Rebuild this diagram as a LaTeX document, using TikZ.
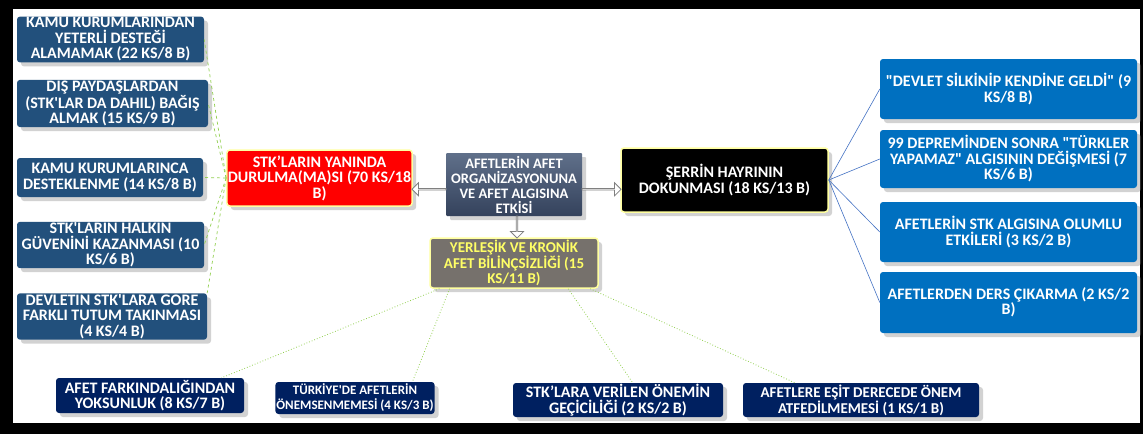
\documentclass[tikz,border=0pt]{standalone}
\usepackage{fontspec}
\setmainfont{Carlito}
\usetikzlibrary{shapes.arrows,shadows,calc}

\definecolor{steelbox}{RGB}{34,80,124}
\definecolor{brightbox}{RGB}{0,112,192}
\definecolor{navybox}{RGB}{0,32,96}
\definecolor{slatetop}{RGB}{96,112,138}
\definecolor{slatebot}{RGB}{52,66,92}
\definecolor{chronicbox}{RGB}{118,113,108}
\definecolor{chronictext}{RGB}{255,255,102}
\definecolor{glowline}{RGB}{255,255,160}
\definecolor{leafgreen}{RGB}{146,208,80}
\definecolor{linkblue}{RGB}{68,114,196}

\begin{document}
\begin{tikzpicture}[
    x=1pt, y=-1pt,
    % Define box styles
    box/.style={rounded corners=3pt, align=center, inner sep=1pt,
        font=\fontsize{16}{15.5}\selectfont\bfseries, text=white,
        drop shadow={shadow xshift=4pt, shadow yshift=-4pt, opacity=0.35}},
    small/.style={font=\fontsize{15}{15}\selectfont\bfseries},
    causebox/.style={box, fill=steelbox},
    gainbox/.style={box, fill=brightbox},
    lackbox/.style={box, fill=navybox},
    % Define the four middle boxes
    stkbox/.style={box, fill=red, draw=glowline, line width=1.5pt},
    rootbox/.style={box, font=\fontsize{14.5}{15}\selectfont\bfseries,
        top color=slatetop, bottom color=slatebot, rounded corners=1pt},
    chronic/.style={box, small, fill=chronicbox, draw=glowline, line width=1.5pt, text=chronictext},
    goodbox/.style={box, fill=black, draw=glowline, line width=1.5pt},
    % Define connector styles
    hollow/.style={single arrow, draw=gray, fill=white, inner sep=0pt, line width=0.8pt,
        minimum width=13, single arrow head extend=3.5, single arrow tip angle=90},
    leftlink/.style={leafgreen, dashed, line width=0.7pt},
    rightlink/.style={linkblue, line width=0.6pt},
    downlink/.style={leafgreen, dotted, line width=0.8pt}
]

% Frame
\useasboundingbox (0,0) rectangle (1143,434);
\fill[black] (0,0) rectangle (1143,434);
\fill[white] (13,9) rectangle (1140,423);

% Middle: the effect and its three branches
\node[rootbox, minimum width=136, minimum height=63] (etki) at (514,184.5)
    {AFETLERİN AFET\\ORGANİZASYONUNA\\VE AFET ALGISINA\\ETKİSİ};
\node[stkbox, minimum width=185, minimum height=56] (stk) at (319.5,178)
    {STK’LARIN YANINDA\\DURULMA(MA)SI (70 KS/18\\B)};
\node[goodbox, minimum width=207, minimum height=64] (serr) at (724.5,180)
    {ŞERRİN HAYRININ\\DOKUNMASI (18 KS/13 B)};
\node[chronic, minimum width=168, minimum height=50] (bilinc) at (514,263)
    {YERLEŞİK VE KRONİK\\AFET BİLİNÇSİZLİĞİ (15\\KS/11 B)};

\node[hollow, minimum height=34, shape border rotate=180] (toStk)
    at ($(etki.west)!0.5!(stk.east)+(0,8)$) {};
\node[hollow, minimum height=39] (toSerr)
    at ($(etki.east)!0.5!(serr.west)+(0,7)$) {};
\node[hollow, minimum height=22, shape border rotate=270] (toBilinc)
    at ($(etki.south)!0.5!(bilinc.north)+(3,0)$) {};

% Left column
\node[causebox, minimum width=187, minimum height=43] (kamu) at (110.5,39.5)
    {KAMU KURUMLARINDAN\\YETERLİ DESTEĞİ\\ALAMAMAK (22 KS/8 B)};
\node[causebox, minimum width=191, minimum height=45] (bagis) at (112.5,103.5)
    {DIŞ PAYDAŞLARDAN\\(STK\textquotesingle LAR DA DAHIL) BAĞIŞ\\ALMAK (15 KS/9 B)};
\node[causebox, minimum width=186, minimum height=39] (destek) at (110,177.5)
    {KAMU KURUMLARINCA\\DESTEKLENME (14 KS/8 B)};
\node[causebox, minimum width=187, minimum height=44] (guven) at (110.5,245)
    {STK\textquotesingle LARIN HALKIN\\GÜVENİNİ KAZANMASI (10\\KS/6 B)};
\node[causebox, minimum width=190, minimum height=45] (tutum) at (112,316.5)
    {DEVLETIN STK\textquotesingle LARA GORE\\FARKLI TUTUM TAKINMASI\\(4 KS/4 B)};

\foreach \n in {kamu,bagis,destek,guven}
    \draw[leftlink] (stk.west) -- (\n.east);
\draw[leftlink] (stk.west) -- (tutum.north east);

% Right column
\node[gainbox, minimum width=257, minimum height=60] (silkin) at (1008.5,89)
    {\textquotedbl DEVLET SİLKİNİP KENDİNE GELDİ\textquotedbl\ (9\\KS/8 B)};
\node[gainbox, minimum width=257, minimum height=58] (deprem) at (1008.5,159)
    {99 DEPREMİNDEN SONRA \textquotedbl TÜRKLER\\YAPAMAZ\textquotedbl\ ALGISININ DEĞİŞMESİ (7\\KS/6 B)};
\node[gainbox, minimum width=257, minimum height=60] (olumlu) at (1008.5,232)
    {AFETLERİN STK ALGISINA OLUMLU\\ETKİLERİ (3 KS/2 B)};
\node[gainbox, minimum width=257, minimum height=61] (ders) at (1008.5,302.5)
    {AFETLERDEN DERS ÇIKARMA (2 KS/2\\B)};

\foreach \n in {silkin,deprem,olumlu,ders}
    \draw[rightlink] (serr.east) -- (\n.west);

% Bottom row
\node[lackbox, minimum width=188, minimum height=35] (farkin) at (150,395.5)
    {AFET FARKINDALIĞINDAN\\YOKSUNLUK (8 KS/7 B)};
\node[lackbox, font=\fontsize{13}{15}\selectfont\bfseries, minimum width=154, minimum height=32] (onemsiz) at (355,398)
    {TÜRKİYE\textquotesingle DE AFETLERİN\\ÖNEMSENMEMESİ (4 KS/3 B)};
\node[lackbox, minimum width=210, minimum height=34] (gecici) at (618,400)
    {STK’LARA VERİLEN ÖNEMİN\\GEÇİCİLİĞİ (2 KS/2 B)};
\node[lackbox, small, minimum width=236, minimum height=34] (esit) at (861,400)
    {AFETLERE EŞİT DERECEDE ÖNEM\\ATFEDİLMEMESİ (1 KS/1 B)};

\draw[downlink] ($(bilinc.south west)!0.06!(bilinc.south east)$) -- ($(farkin.north west)!0.88!(farkin.north east)$);
\draw[downlink] ($(bilinc.south west)!0.12!(bilinc.south east)$) -- ($(onemsiz.north west)!0.86!(onemsiz.north east)$);
\draw[downlink] ($(bilinc.south west)!0.82!(bilinc.south east)$) -- ($(gecici.north west)!0.57!(gecici.north east)$);
\draw[downlink] ($(bilinc.south west)!0.95!(bilinc.south east)$) -- ($(esit.north west)!0.22!(esit.north east)$);

\end{tikzpicture}
\end{document}
